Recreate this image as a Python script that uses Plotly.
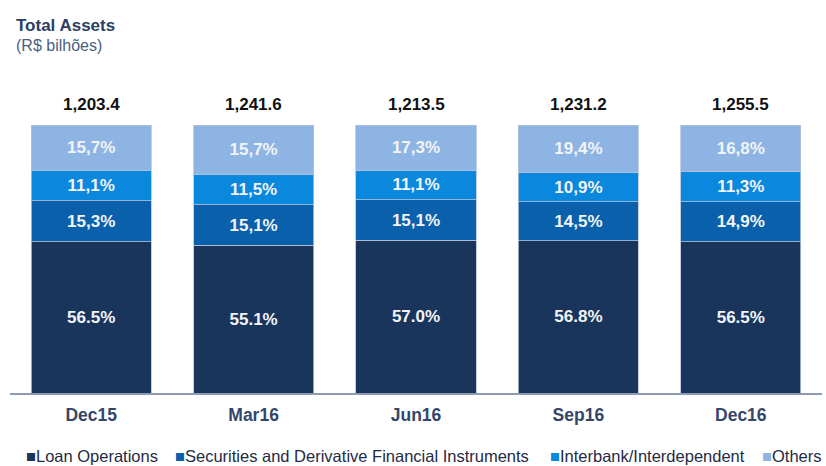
import plotly.graph_objects as go

categories = ["Dec15", "Mar16", "Jun16", "Sep16", "Dec16"]
totals = ["1,203.4", "1,241.6", "1,213.5", "1,231.2", "1,255.5"]

loan = [56.5, 55.1, 57.0, 56.8, 56.5]
securities = [15.3, 15.1, 15.1, 14.5, 14.9]
interbank = [11.1, 11.5, 11.1, 10.9, 11.3]
others_label = [15.7, 15.7, 17.3, 19.4, 16.8]
# visible height of the "Others" segment (bars fill to 100%)
others_height = [17.1, 18.3, 16.8, 17.8, 17.3]

series_names = ["Loan Operations", "Securities and Derivative Financial Instruments",
                "Interbank/Interdependent", "Others"]
colors = ["#1a355c", "#0a60aa", "#0a88de", "#8eb4e3"]

FONT = "Liberation Sans, Arial, sans-serif"

def pct(v, dec_comma=True):
    s = f"{v:.1f}%"
    s = s.replace(".", ",") if dec_comma else s
    return f"<b>{s}</b>"

W, H = 826, 466
ml, mr, mt, mb = 10, 4, 125, 73
pw, ph = W - ml - mr, H - mt - mb

def px(xp):
    return (xp - ml) / pw

def py(yp):
    return (H - mb - yp) / ph

fig = go.Figure()
series = [
    (loan, [pct(v, False) for v in loan]),
    (securities, [pct(v) for v in securities]),
    (interbank, [pct(v) for v in interbank]),
    (others_height, [pct(v) for v in others_label]),
]
for (vals, txt), name, col in zip(series, series_names, colors):
    fig.add_trace(go.Bar(
        x=categories, y=vals, name=name, text=txt,
        textposition="inside", insidetextanchor="middle",
        textfont=dict(family=FONT, size=17, color="#f2f4f8"),
        marker=dict(color=col, line=dict(color="#b4c2d8", width=0.8)),
        showlegend=False, hoverinfo="skip",
    ))

fig.update_traces(textangle=0, constraintext="none")

annotations = []
for c, t in zip(categories, totals):
    annotations.append(dict(
        x=c, y=100, xref="x", yref="y", text=f"<b>{t}</b>", showarrow=False,
        yanchor="bottom", yshift=9,
        font=dict(family=FONT, size=17, color="#111111")))

annotations.append(dict(x=px(14), y=py(25), xref="paper", yref="paper", xanchor="left", yanchor="middle",
                        text="<b>Total Assets</b>", showarrow=False,
                        font=dict(family=FONT, size=17, color="#2b3f63")))
annotations.append(dict(x=px(14), y=py(45), xref="paper", yref="paper", xanchor="left", yanchor="middle",
                        text="(R$ bilhões)", showarrow=False,
                        font=dict(family=FONT, size=16, color="#4a5f80")))

# legend built from annotations
leg_x = [24, 173, 548, 760]
for lx, name, col in zip(leg_x, series_names, colors):
    annotations.append(dict(
        x=px(lx), y=py(456), xref="paper", yref="paper", xanchor="left", yanchor="middle",
        text=f"<span style='color:{col}'>■</span>{name}", showarrow=False,
        font=dict(family=FONT, size=16.5, color="#1f2a44")))

fig.update_layout(
    width=W, height=H,
    margin=dict(l=ml, r=mr, t=mt, b=mb, pad=0, autoexpand=False),
    barmode="stack", bargap=0.26,
    plot_bgcolor="white", paper_bgcolor="white",
    font=dict(family=FONT),
    uniformtext=dict(mode=False),
    xaxis=dict(showline=True, linecolor="#8c9bb5", linewidth=2, showgrid=False,
               automargin=False,
               ticks="outside", ticklen=5, tickcolor="rgba(0,0,0,0)",
               tickfont=dict(family=FONT, size=17.5, color="#34466a"),
               tickprefix="<b>", ticksuffix="</b>", fixedrange=True),
    yaxis=dict(range=[0, 100], visible=False, fixedrange=True, automargin=False),
    annotations=annotations,
    showlegend=False,
)

fig.write_html("out.html", config={"displayModeBar": False},
               post_script="document.body.style.margin='0';document.body.style.overflow='hidden';")
